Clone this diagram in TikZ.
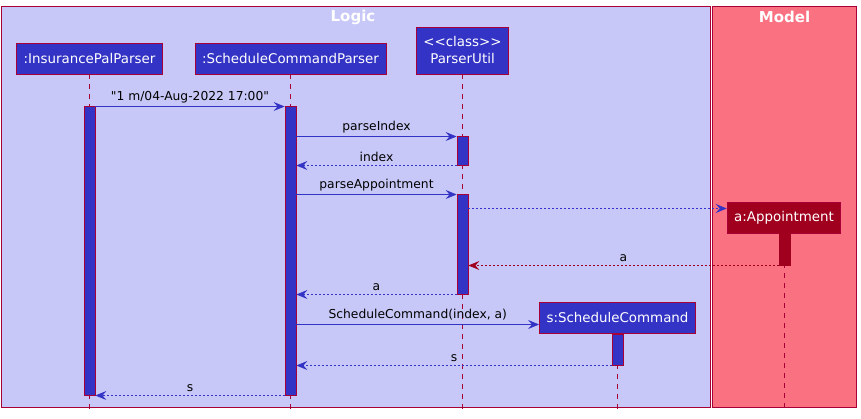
\documentclass[tikz,border=0pt]{standalone}
\usepackage{fontspec}
\setmainfont{DejaVu Sans}[Ligatures=TeXOff]
\usetikzlibrary{arrows.meta}
\definecolor{logicbg}{RGB}{200,200,248}
\definecolor{modelbg}{RGB}{250,114,130}
\definecolor{boxblue}{RGB}{51,51,197}
\definecolor{apptred}{RGB}{160,0,30}
\definecolor{crimson}{RGB}{168,0,54}
\tikzstyle{arrow} = [-{Stealth[length=11pt,width=9pt,inset=4pt]},boxblue,line width=0.8pt]
\tikzstyle{ret} = [arrow,dash pattern=on 2pt off 2pt]
\tikzstyle{part} = [draw=crimson,fill=boxblue,text=white,font=\fontsize{13.4}{16}\selectfont,minimum height=31pt,inner xsep=7pt,line width=0.9pt]
\tikzstyle{actbar} = [draw=crimson,fill=boxblue,minimum width=11pt,inner sep=0pt,anchor=north,line width=0.8pt]
\tikzstyle{life} = [crimson,dash pattern=on 5pt off 5pt,line width=0.8pt]
\tikzstyle{lbl} = [font=\fontsize{12.3}{14}\selectfont,text=black,inner sep=1.5pt,above=2pt]
\tikzstyle{title} = [font=\fontsize{15}{18}\selectfont\bfseries,text=white]

\begin{document}
\begin{tikzpicture}[x=1pt,y=-1pt]
        \fill[white] (0,0) rectangle (861,419);
        \useasboundingbox (0,0) rectangle (861,419);
        % packages
        \draw[crimson,fill=logicbg,line width=0.9pt] (1.3,6.7) rectangle (710.7,407.3);
        \draw[crimson,fill=modelbg,line width=0.9pt] (712.3,6.7) rectangle (856.7,407.3);
        \node[title] at (353,17) (logic) {Logic};
        \node[title] at (784.5,17) (model) {Model};

        % participants
        \node[part] at (89.5,58.5) (ipp) {:InsurancePalParser};
        \node[part] at (290.5,58.5) (scp) {:ScheduleCommandParser};
        \node[part,align=center,minimum height=47pt,font=\fontsize{13.4}{17}\selectfont] at (462.5,50.5) (pu) {{<}{<}class{>}{>}\\ParserUtil};
        \node[part,fill=apptred] at (784,217.5) (appt) {a:Appointment};
        \node[part] at (617.5,318) (sc) {s:ScheduleCommand};

        % lifelines
        \draw[life] (ipp.south) -- (ipp.south |- 0,410);
        \draw[life] (scp.south) -- (scp.south |- 0,410);
        \draw[life] (pu.south) -- (pu.south |- 0,410);
        \draw[life] (appt.south) -- (appt.south |- 0,410);
        \draw[life] (sc.south) -- (sc.south |- 0,410);

        % activations
        \node[actbar,minimum height=289pt] at (89.5,106) (ippact) {};
        \node[actbar,minimum height=289pt] at (290.5,106) (scpact) {};
        \node[actbar,minimum height=29pt] at (462.5,136) (puact1) {};
        \node[actbar,minimum height=100pt] at (462.5,194) (puact2) {};
        \node[actbar,fill=apptred,draw=apptred,minimum height=32pt] at (784.5,233) (apptact) {};
        \node[actbar,minimum height=31pt] at (617.5,334) (scact) {};

        % messages
        \draw[arrow] (ippact.east |- 0,106.5) -- (scpact.west |- 0,106.5) node[midway,lbl]{"1 m/04-Aug-2022 17:00"};
        \draw[arrow] (scpact.east |- 0,136.5) -- (puact1.west |- 0,136.5) node[midway,lbl]{parseIndex};
        \draw[ret] (puact1.west |- 0,165.5) -- (scpact.east |- 0,165.5) node[midway,lbl]{index};
        \draw[arrow] (scpact.east |- 0,194.5) -- (puact2.west |- 0,194.5) node[midway,lbl]{parseAppointment};
        \draw[ret] (puact2.east |- 0,208.5) -- (appt.west |- 0,208.5);
        \draw[ret,apptred] (apptact.west |- 0,265.5) -- (puact2.east |- 0,265.5) node[midway,lbl]{a};
        \draw[ret] (puact2.west |- 0,294.5) -- (scpact.east |- 0,294.5) node[midway,lbl]{a};
        \draw[arrow] (scpact.east |- 0,324.5) -- (sc.west |- 0,324.5) node[midway,lbl]{ScheduleCommand(index, a)};
        \draw[ret] (scact.west |- 0,365.5) -- (scpact.east |- 0,365.5) node[midway,lbl]{s};
        \draw[ret] (scpact.west |- 0,395.5) -- (ippact.east |- 0,395.5) node[midway,lbl]{s};

    \end{tikzpicture}
\end{document}
